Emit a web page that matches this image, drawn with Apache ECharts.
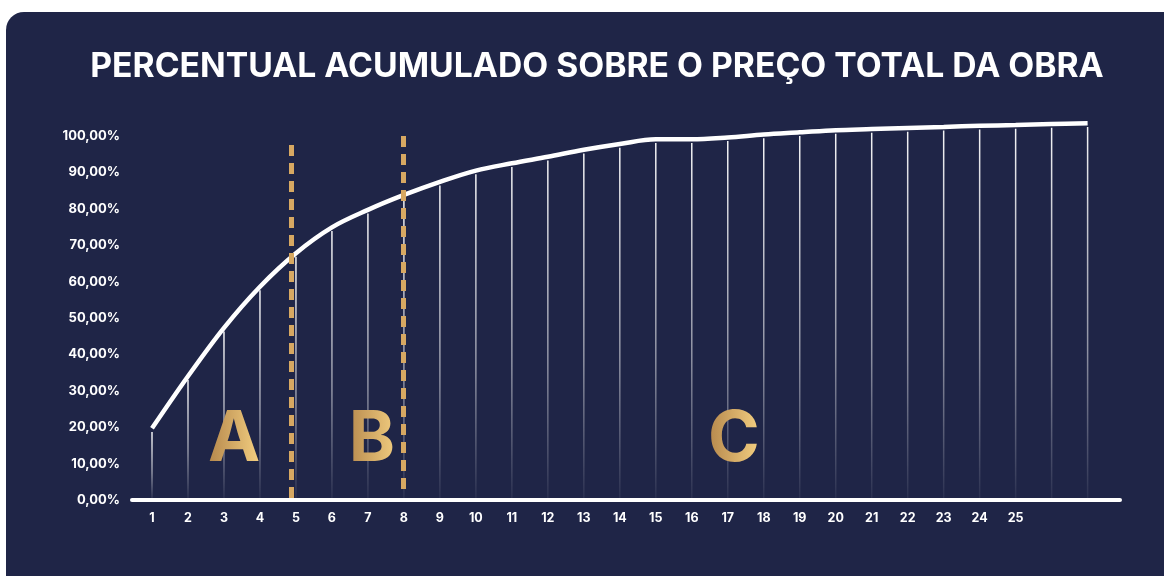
<!DOCTYPE html>
<html>
<head>
<meta charset="utf-8">
<script src="https://cdn.jsdelivr.net/npm/echarts@6/dist/echarts.min.js"></script>
<style>
html,body{margin:0;padding:0;background:#ffffff;width:1164px;height:576px;overflow:hidden;}
#card{position:absolute;left:6px;top:12px;width:1200px;height:620px;background:#1F2547;border-radius:18px;}
#chart{position:absolute;left:0;top:0;width:1164px;height:576px;}
</style>
</head>
<body>
<div id="card"></div>
<div id="chart"></div>
<script>
// ---- data ----
const chartTitle = 'PERCENTUAL ACUMULADO SOBRE O PREÇO TOTAL DA OBRA';
const xIndex = [0,1,2,3,4,5,6,7,8,9,10,11,12,13,14,15,16,17,18,19,20,21,22,23,24,25,26];
const xTickLabels = ['1','2','3','4','5','6','7','8','9','10','11','12','13','14','15','16','17','18','19','20','21','22','23','24','25'];
const cumulative = [19.7,34.0,47.3,58.6,67.8,74.9,79.7,83.8,87.4,90.5,92.5,94.3,96.2,97.8,99.1,99.1,99.6,100.4,101.0,101.6,101.9,102.2,102.5,102.8,103.0,103.3,103.5];
const yTicks = [0,10,20,30,40,50,60,70,80,90,100];
const dividerX = [3.88, 6.98];
const dividerTop = [97.5, 100];
const dividerBottom = [0, 1.6];
const zoneLetters = ['A','B','C'];
const zoneLetterX = [2.28, 6.11, 16.17];
const zoneLetterY = 16.5;

// ---- chart ----
const chart = echarts.init(document.getElementById('chart'), null, {renderer:'canvas'});
const gold = '#d7a862';
const labelFont = 'Inter';

const option = {
  backgroundColor: 'transparent',
  animation: false,
  title: {
    text: chartTitle,
    left: 592, top: 45, textAlign: 'center',
    textStyle: {color:'#ffffff', fontFamily: labelFont, fontWeight: 700, fontSize: 33.7}
  },
  grid: {left:132, right:44, top:99.6, bottom:76},
  xAxis: {
    type: 'value', min: -0.556, max: 26.9,
    splitLine: {show:false},
    axisTick: {show:false},
    axisLine: {show:true, lineStyle:{color:'#ffffff', width:4}},
    axisLabel: {
      customValues: xIndex.slice(0, xTickLabels.length),
      formatter: v => xTickLabels[Math.round(v)] || '',
      color:'#ffffff', fontFamily: labelFont, fontWeight:700, fontSize:12.5, margin:12
    }
  },
  yAxis: {
    type: 'value', min: 0, max: 110, interval: 10,
    splitLine: {show:false},
    axisTick: {show:false},
    axisLine: {show:false},
    axisLabel: {
      customValues: yTicks,
      formatter: v => v.toFixed(2).replace('.', ',') + '%',
      color:'#ffffff', fontFamily: labelFont, fontWeight:700, fontSize:13, margin:12
    }
  },
  series: [
    {
      type: 'bar',
      barWidth: 1.5,
      silent: true,
      z: 1,
      itemStyle: {
        color: new echarts.graphic.LinearGradient(0,0,0,1,[
          {offset:0, color:'rgba(255,255,255,0.95)'},
          {offset:0.6, color:'rgba(255,255,255,0.5)'},
          {offset:1, color:'rgba(255,255,255,0.05)'}
        ])
      },
      data: xIndex.map(i => [i, cumulative[i] - 1])
    },
    {
      type: 'line',
      smooth: 0.35,
      symbol: 'none',
      z: 3,
      lineStyle: {color:'#ffffff', width:4.5},
      data: xIndex.map(i => [i, cumulative[i]]),
      markLine: {
        silent: true,
        symbol: ['none','none'],
        label: {show:false},
        lineStyle: {color: gold, width:5, type:[11,7]},
        data: dividerX.map((x, k) => [{coord:[x, dividerTop[k]]}, {coord:[x, dividerBottom[k]]}])
      }
    }
  ]
};
chart.setOption(option);

// letters on their own layer, tinted with a gradient via source-atop compositing
const letterGrad = new echarts.graphic.LinearGradient(0,0,1,0,[
  {offset:0, color:'#b2844a'},
  {offset:1, color:'#f6d283'}
]);
const graphics = [];
zoneLetters.forEach((t, k) => {
  const p = chart.convertToPixel({gridIndex:0}, [zoneLetterX[k], zoneLetterY]);
  graphics.push({
    type:'text', x:p[0], y:p[1], silent:true, zlevel:1, z:10,
    style: {text:t, align:'center', verticalAlign:'middle', fill:'#e0b56c', font:'700 70px Inter'}
  });
  graphics.push({
    type:'rect', silent:true, zlevel:1, z:11,
    shape: {x:p[0]-28, y:p[1]-31, width:56, height:62},
    style: {fill: letterGrad, blend:'source-atop'}
  });
});
chart.setOption({graphic: graphics});
</script>
</body>
</html>
